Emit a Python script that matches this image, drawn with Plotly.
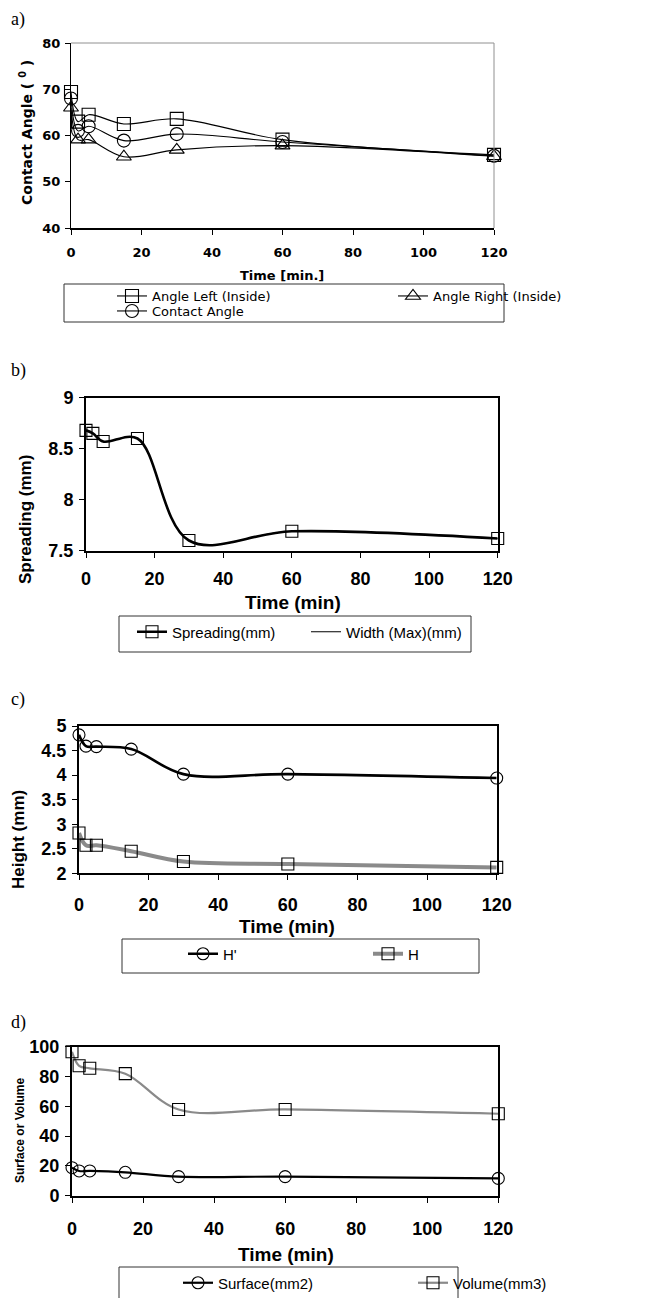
import plotly.graph_objects as go

W, H = 663, 1298
OFF = 8                      # default page margin of the HTML body
FW, FH = W - OFF, H - OFF    # figure size so that it fills the window

# ---------------- data ----------------
time_min = [0, 2, 5, 15, 30, 60, 120]
x_ticks = [0, 20, 40, 60, 80, 100, 120]

# a) contact angles (deg)
angle_left = [69.4, 63.0, 64.5, 62.5, 63.6, 59.1, 55.8]
angle_right = [66.0, 59.1, 59.1, 55.4, 56.9, 57.8, 55.5]
contact_angle = [68.0, 61.0, 62.0, 58.9, 60.3, 58.6, 55.6]
a_yticks = [40, 50, 60, 70, 80]

# b) spreading (mm)
spreading = [8.68, 8.65, 8.57, 8.60, 7.60, 7.69, 7.62]
width_max = [8.68, 8.65, 8.57, 8.60, 7.60, 7.69, 7.62]
b_yticks = [7.5, 8, 8.5, 9]

# c) heights (mm)
h_prime = [4.82, 4.59, 4.58, 4.53, 4.02, 4.02, 3.94]
h_val = [2.82, 2.57, 2.57, 2.45, 2.24, 2.19, 2.12]
c_yticks = [2, 2.5, 3, 3.5, 4, 4.5, 5]

# d) surface / volume
surface = [18.8, 16.6, 16.6, 15.7, 12.8, 12.8, 11.6]
volume = [96.6, 87.2, 85.5, 81.9, 57.9, 57.9, 55.0]
d_yticks = [0, 20, 40, 60, 80, 100]

# ---------------- helpers for window pixel -> paper ----------------
def fx(p):
    return (p - OFF) / FW

def fy(p):
    return 1 - (p - OFF) / FH

WIDE = "DejaVu Sans, Verdana, sans-serif"
NARROW = "Liberation Sans Narrow, Arial Narrow, Liberation Sans, Arial, sans-serif"
ARIAL = "Liberation Sans, Arial, sans-serif"
SERIF = "Liberation Serif, Times New Roman, serif"
GRAY = "#8a8a8a"

fig = go.Figure()

def add(name, x, y, xa, ya, leg, color, lw, symbol=None, msize=12, show=True):
    fig.add_trace(go.Scatter(
        x=x, y=y, name=name, xaxis=xa, yaxis=ya, legend=leg,
        mode="lines+markers" if symbol else "lines",
        line=dict(color=color, width=lw, shape="spline", smoothing=1.0),
        marker=dict(symbol=symbol or "circle", size=msize, color="black",
                    line=dict(width=1.1, color="black")),
        cliponaxis=False, showlegend=show,
    ))

# a)
add("Angle Left (Inside)", time_min, angle_left, "x", "y", "legend", "black", 1.1, "square-open", 13)
add("Angle Right (Inside)", time_min, angle_right, "x", "y", "legend", "black", 1.1, "triangle-up-open", 13)
add("Contact Angle", time_min, contact_angle, "x", "y", "legend5", "black", 1.1, "circle-open", 13)
# b)
add("Spreading(mm)", time_min, spreading, "x2", "y2", "legend2", "black", 2.6, "square-open", 12)
add("Width (Max)(mm)", time_min, width_max, "x2", "y2", "legend2", "black", 1.0, None)
# c)
add("H'", time_min, h_prime, "x3", "y3", "legend3", "black", 2.6, "circle-open", 12)
add("H", time_min, h_val, "x3", "y3", "legend3", GRAY, 4.0, "square-open", 12)
# d)
add("Surface(mm2)", time_min, surface, "x4", "y4", "legend4", "black", 2.2, "circle-open", 12)
add("Volume(mm3)", time_min, volume, "x4", "y4", "legend4", GRAY, 2.2, "square-open", 12)

# ---------------- panel geometry (window pixels) ----------------
geo = {
    "": dict(x=(71, 494), y=(43, 228)),
    "2": dict(x=(86, 497.7), y=(397.7, 550.7)),
    "3": dict(x=(79, 496.7), y=(726, 873.3)),
    "4": dict(x=(72, 498.3), y=(1046.7, 1195.7)),
}

yinfo = {
    "": (40, 80, a_yticks),
    "2": (7.5, 9, b_yticks),
    "3": (2, 5, c_yticks),
    "4": (0, 100, d_yticks),
}

layout = dict(
    width=FW, height=FH,
    margin=dict(l=0, r=0, t=0, b=0, autoexpand=False),
    paper_bgcolor="white", plot_bgcolor="white",
    showlegend=True,
)

for k, g in geo.items():
    ymin, ymax, yt = yinfo[k]
    is_a = k == ""
    tfont = dict(family=WIDE if is_a else NARROW, size=13 if is_a else 18,
                 color="black", weight="bold")
    standoff = {"": 6, "2": 6, "3": 9, "4": 11}[k]
    layout["xaxis" + k] = dict(
        domain=[fx(g["x"][0]), fx(g["x"][1])],
        anchor="y" + k, range=[0, 120], tickvals=x_ticks,
        ticks="outside", ticklen=5, tickwidth=1, tickcolor="black",
        showline=True, linecolor="black", linewidth=2,
        mirror=False if is_a else True,
        showgrid=False, zeroline=False, tickfont=tfont,
        ticklabelstandoff=standoff,
    )
    layout["yaxis" + k] = dict(
        domain=[fy(g["y"][1]), fy(g["y"][0])],
        anchor="x" + k, range=[ymin, ymax], tickvals=yt,
        ticks="outside", ticklen=5, tickwidth=1, tickcolor="black",
        showline=True, linecolor="black", linewidth=1 if is_a else 2,
        mirror=False if is_a else True,
        showgrid=False, zeroline=False, tickfont=tfont,
        ticklabelstandoff=2,
    )

def legend_cfg(xpx, ypx, size, family, entrywidth, yanchor="middle"):
    return dict(
        x=fx(xpx), y=fy(ypx), xanchor="left", yanchor=yanchor,
        orientation="h", bgcolor="rgba(0,0,0,0)", borderwidth=0,
        font=dict(family=family, size=size, color="black"),
        entrywidth=entrywidth, entrywidthmode="pixels",
        itemsizing="trace", traceorder="normal",
    )

layout["legend"] = legend_cfg(112, 296, 13, WIDE, 236)
layout["legend5"] = legend_cfg(112, 311, 13, WIDE, 140)
layout["legend2"] = legend_cfg(132, 632, 15, NARROW, 129)
layout["legend3"] = legend_cfg(183, 954, 15, NARROW, 140)
layout["legend4"] = legend_cfg(178, 1283, 15, NARROW, 190)

shapes = []
# legend boxes
for (x0, y0, x1, y1) in [(64, 284, 504, 322), (119, 616, 471, 652),
                         (122, 939, 479, 973), (119, 1267, 458, 1305)]:
    shapes.append(dict(type="rect", xref="paper", yref="paper",
                       x0=fx(x0), x1=fx(x1), y0=fy(y1), y1=fy(y0),
                       line=dict(color="#333333", width=1), fillcolor="rgba(0,0,0,0)"))
# gray top/right border in panel a
shapes.append(dict(type="line", xref="x domain", yref="y domain", x0=0, x1=1, y0=1, y1=1,
                   line=dict(color="#909090", width=1)))
shapes.append(dict(type="line", xref="x domain", yref="y domain", x0=1, x1=1, y0=0, y1=1,
                   line=dict(color="#909090", width=1)))
layout["shapes"] = shapes

ann = []
def txt(text, xpx, ypx, size, family, bold=True, angle=0, xanchor="center", yanchor="middle"):
    ann.append(dict(text=text, x=fx(xpx), y=fy(ypx), xref="paper", yref="paper",
                    xanchor=xanchor, yanchor=yanchor, showarrow=False, textangle=angle,
                    borderpad=0,
                    font=dict(family=family, size=size, color="black",
                              weight="bold" if bold else "normal")))

# panel labels
txt("a)", 10, 8, 18, SERIF, bold=False, xanchor="left", yanchor="top")
for lab, ypx in [("b)", 370), ("c)", 699), ("d)", 1022)]:
    txt(lab, 10, ypx, 18, SERIF, bold=False, xanchor="left")
# x titles
txt("Time [min.]", 282, 275, 13, WIDE)
txt("Time (min)", 293, 603, 19, NARROW)
txt("Time (min)", 287, 926, 19, NARROW)
txt("Time (min)", 286, 1254, 19, NARROW)
# y titles
txt("Contact Angle ( <sup>0</sup> )", 26, 133, 14, WIDE, angle=-90)
txt("Spreading (mm)", 25, 520, 17, ARIAL, angle=-90)
txt("Height (mm)", 18, 840, 17, ARIAL, angle=-90)
txt("Surface or Volume", 20, 1131, 12, ARIAL, angle=-90)
layout["annotations"] = ann

fig.update_layout(**layout)
fig.write_html("out.html")
